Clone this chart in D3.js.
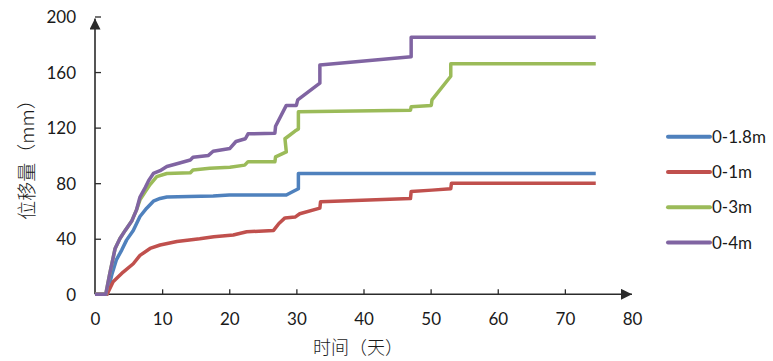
<!DOCTYPE html>
<html>
<head>
<meta charset="utf-8">
<script src="https://cdn.jsdelivr.net/npm/d3@7"></script>
<style>
  body { margin: 0; background: #fff; }
  #visual { width: 773px; height: 361px; }
  text { font-family: Lato, "Noto Sans", sans-serif; fill: #1a1a1a; }
  .cjk { font-family: "Noto Sans CJK SC", sans-serif; font-weight: 300; }
</style>
</head>
<body>
<div id="visual"></div>
<script>
// data: days and displacement (mm) per depth
var seriesNames = ['0-1.8m', '0-1m', '0-3m', '0-4m'];
var seriesColours = ['#4F81BD', '#C0504D', '#9BBB59', '#8064A2'];

var blueDays = [0, 1.8, 2.5, 3.2, 4, 4.7, 5.7, 6.7, 7.7, 8.7, 9.7, 10.7, 14, 17.6, 20, 28.5, 29.5, 30.3, 30.3, 74.6];
var blueMm = [0, 0, 14, 25, 32, 39, 46, 56, 62, 67, 69, 70, 70.5, 70.8, 71.5, 71.5, 74, 76, 87, 87];

var redDays = [0, 1.8, 2.7, 4.2, 5.7, 6.7, 8.2, 9.7, 12.2, 15.6, 17.7, 20.6, 22.6, 26.6, 27.4, 28.3, 29.8, 30.5, 33.5, 33.6, 47, 47.1, 50.2, 53, 53.1, 74.6];
var redMm = [0, 0, 9, 16, 22, 28, 33, 35.5, 38, 40, 41.5, 42.7, 45, 46, 51, 55, 55.6, 58, 62, 66.7, 69, 74, 75, 76, 80, 80];

var greenDays = [0, 1.6, 2.2, 3, 3.7, 4.5, 5.5, 6.2, 6.7, 7.5, 8.2, 9.2, 10.7, 14.2, 14.6, 17.1, 20.1, 22.3, 22.8, 26.8, 26.9, 28.5, 28.3, 29.8, 30.3, 30.3, 47, 47.1, 50.1, 50.2, 53, 53, 74.6];
var greenMm = [0, 0, 15, 33, 40, 46, 53, 61, 68, 74, 79, 84.7, 87, 87.5, 89.5, 90.7, 91.4, 93, 95.5, 95.5, 99, 102.5, 112, 117.5, 119, 131.5, 132.5, 135, 136, 140, 157, 166, 166];

var purpleDays = [0, 1.6, 2.2, 3, 3.7, 4.5, 5.5, 6.2, 6.7, 7.5, 8, 8.7, 9.7, 10.7, 12.2, 14.2, 14.6, 16.9, 17.6, 20.1, 21, 22.4, 22.8, 26.8, 26.9, 28.5, 30, 30.2, 33.5, 33.5, 47.1, 47.1, 74.6];
var purpleMm = [0, 0, 15, 33, 40, 46, 53, 61, 70, 77, 82, 87, 89, 92, 94, 96.7, 98.6, 100, 103, 105, 110, 112, 115.5, 116, 121, 136, 136, 140, 152, 165, 171, 185, 185];

var xTicks = [0, 10, 20, 30, 40, 50, 60, 70, 80];
var yTicks = [0, 40, 80, 120, 160, 200];

var width = 773, height = 361;

var svg = d3.select('#visual')
    .append('svg')
    .attr('width', width)
    .attr('height', height);

svg.append('rect')
    .attr('width', width)
    .attr('height', height)
    .attr('fill', '#fff');

var x_scale = d3.scaleLinear().domain([0, 80]).range([95, 632]);
var y_scale = d3.scaleLinear().domain([0, 200]).range([294.3, 16.5]);

var axisColour = '#2b2b2b';

var defs = svg.append('defs');
defs.append('marker')
    .attr('id', 'arrow')
    .attr('viewBox', '0 0 10 10')
    .attr('refX', 10)
    .attr('refY', 5)
    .attr('markerWidth', 11)
    .attr('markerHeight', 11)
    .attr('markerUnits', 'userSpaceOnUse')
    .attr('orient', 'auto')
    .append('path')
    .attr('d', 'M0,0L10,5L0,10Z')
    .attr('fill', axisColour);

// axes: ticks point inward, no domain path (drawn with arrows below)
var x_axis = d3.axisBottom(x_scale)
    .tickValues(xTicks)
    .tickSizeInner(-5)
    .tickSizeOuter(0)
    .tickPadding(19);

var y_axis = d3.axisLeft(y_scale)
    .tickValues(yTicks)
    .tickSizeInner(-6)
    .tickSizeOuter(0)
    .tickPadding(19);

var gx = svg.append('g')
    .attr('transform', 'translate(0,' + y_scale(0) + ')')
    .call(x_axis);
var gy = svg.append('g')
    .attr('transform', 'translate(' + x_scale(0) + ',0)')
    .call(y_axis);

[gx, gy].forEach(function (g) {
    g.select('.domain').remove();
    g.selectAll('line').attr('stroke', axisColour).attr('stroke-width', 1.3);
    g.selectAll('text')
        .attr('font-size', '17px')
        .attr('fill', '#1a1a1a')
        .style('font-family', 'Lato, "Noto Sans", sans-serif');
});
gx.selectAll('.tick').filter(function (d) { return d === 0 || d === 80; }).select('line').remove();
gy.selectAll('.tick').filter(function (d) { return d === 0; }).select('line').remove();
gy.selectAll('text').attr('dy', '0.35em');

svg.append('line')
    .attr('x1', x_scale(0)).attr('y1', y_scale(0))
    .attr('x2', x_scale(80)).attr('y2', y_scale(0))
    .attr('stroke', axisColour).attr('stroke-width', 1.6)
    .attr('marker-end', 'url(#arrow)');

svg.append('line')
    .attr('x1', x_scale(0)).attr('y1', y_scale(0))
    .attr('x2', x_scale(0)).attr('y2', y_scale(200) + 2)
    .attr('stroke', axisColour).attr('stroke-width', 1.6)
    .attr('marker-end', 'url(#arrow)');

// series
var allDays = [blueDays, redDays, greenDays, purpleDays];
var allMm = [blueMm, redMm, greenMm, purpleMm];

var line = d3.line()
    .x(function (d) { return x_scale(d[0]); })
    .y(function (d) { return y_scale(d[1]); });

seriesNames.forEach(function (name, i) {
    var pts = allDays[i].map(function (d, j) { return [d, allMm[i][j]]; });
    svg.append('path')
        .datum(pts)
        .attr('fill', 'none')
        .attr('stroke', seriesColours[i])
        .attr('stroke-width', 3.5)
        .attr('stroke-linejoin', 'round')
        .attr('d', line);
});

// legend
var legend = svg.append('g')
    .selectAll('g')
    .data(seriesNames)
    .enter().append('g')
    .attr('transform', function (d, i) { return 'translate(668,' + (136.7 + i * 35.3) + ')'; });

legend.append('line')
    .attr('x1', 0).attr('x2', 42)
    .attr('stroke', function (d, i) { return seriesColours[i]; })
    .attr('stroke-width', 4)
    .attr('stroke-linecap', 'round');

legend.append('text')
    .attr('x', 44)
    .attr('dy', '0.35em')
    .attr('font-size', '17px')
    .text(function (d) { return d; });

// axis titles
svg.append('text')
    .attr('class', 'cjk')
    .attr('x', 358)
    .attr('y', 354)
    .attr('text-anchor', 'middle')
    .attr('font-size', '18px')
    .text('时间（天）');

svg.append('text')
    .attr('class', 'cjk')
    .attr('transform', 'translate(34,155) rotate(-90)')
    .attr('text-anchor', 'middle')
    .attr('font-size', '19px')
    .text('位移量（mm）');
</script>
</body>
</html>
